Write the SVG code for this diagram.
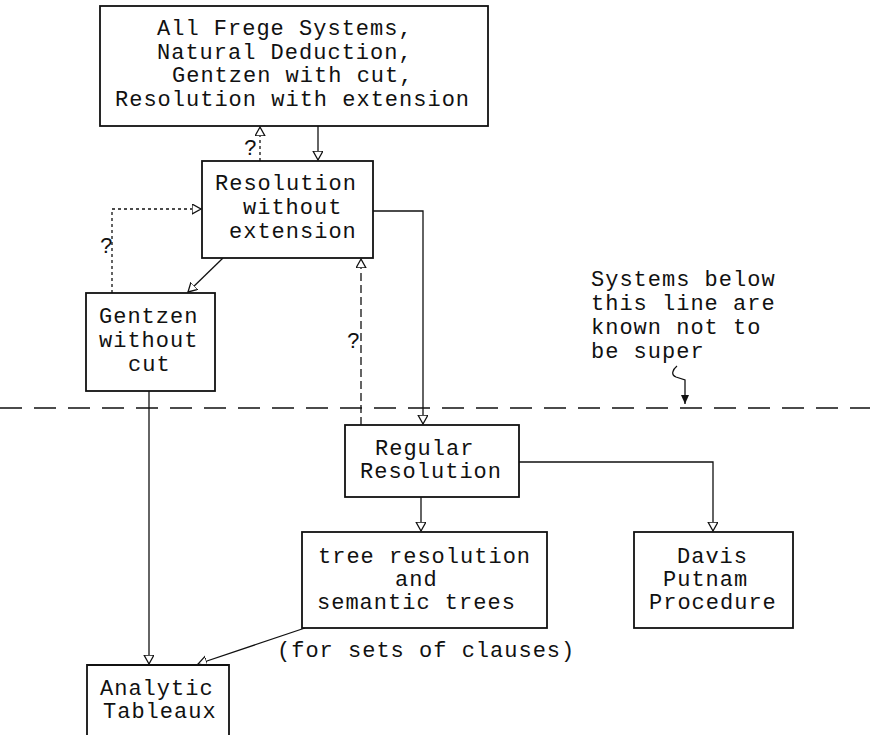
<svg xmlns="http://www.w3.org/2000/svg" width="870" height="735" viewBox="0 0 870 735">
<style>
text{font-family:"Liberation Mono","DejaVu Sans Mono",monospace;font-size:22px;letter-spacing:1px;fill:#111}
.box{fill:#fff;stroke:#111;stroke-width:1.8}
.c{fill:none;stroke:#111;stroke-width:1.3}
.dot{stroke-dasharray:3 3}
.dash{stroke-dasharray:8 4}
.sep{fill:none;stroke:#111;stroke-width:1.6;stroke-dasharray:22 12}
</style>
<defs>
<marker id="oa" markerUnits="userSpaceOnUse" markerWidth="12" markerHeight="12" refX="9" refY="5" orient="auto">
<path d="M0,0 L9,5 L0,10 z" fill="#fff" stroke="#111" stroke-width="1.3"/>
</marker>
<marker id="fa" markerUnits="userSpaceOnUse" markerWidth="12" markerHeight="12" refX="9" refY="4" orient="auto">
<path d="M0,0 L9,4 L0,8 z" fill="#111"/>
</marker>
</defs>
<rect width="870" height="735" fill="#fff"/>
<g id="connectors">
<line class="c" x1="318" y1="126" x2="318" y2="160" marker-end="url(#oa)"/>
<line class="c dot" x1="260" y1="161" x2="260" y2="127" marker-end="url(#oa)"/>
<polyline class="c" points="373,211 423,211 423,424" marker-end="url(#oa)"/>
<polyline class="c dot" points="112,293 112,209 201,209" marker-end="url(#oa)"/>
<line class="c" x1="223" y1="258" x2="188" y2="292" marker-end="url(#oa)"/>
<line class="c dash" x1="361" y1="425" x2="361" y2="259" marker-end="url(#oa)"/>
<line class="c" x1="149" y1="391" x2="149" y2="664" marker-end="url(#oa)"/>
<line class="c" x1="421" y1="497" x2="421" y2="531" marker-end="url(#oa)"/>
<polyline class="c" points="519,462 713,462 713,531" marker-end="url(#oa)"/>
<line class="c" x1="305" y1="628" x2="198" y2="664" marker-end="url(#oa)"/>
<path class="c" d="M677,366 C672,370 671,375 676,377 L685,380 L685,404" marker-end="url(#fa)"/>
<text x="244" y="155">?</text>
<text x="100" y="253">?</text>
<text x="347" y="348">?</text>
</g>
<line class="sep" x1="0" y1="408" x2="870" y2="408"/>
<g id="note">
<text x="591" y="286">Systems below</text>
<text x="591" y="310">this line are</text>
<text x="591" y="334">known not to</text>
<text x="591" y="358">be super</text>
</g>
<g id="top">
<rect class="box" x="100" y="6" width="388" height="120"/>
<text x="157" y="35">All Frege Systems,</text>
<text x="157" y="59">Natural Deduction,</text>
<text x="172" y="82">Gentzen with cut,</text>
<text x="115" y="106">Resolution with extension</text>
</g>
<g id="resolution">
<rect class="box" x="202" y="161" width="171" height="97"/>
<text x="215" y="190">Resolution</text>
<text x="243" y="214">without</text>
<text x="229" y="238">extension</text>
</g>
<g id="gentzen">
<rect class="box" x="86" y="293" width="129" height="98"/>
<text x="99" y="323">Gentzen</text>
<text x="99" y="347">without</text>
<text x="128" y="371">cut</text>
</g>
<g id="regular">
<rect class="box" x="345" y="425" width="174" height="72"/>
<text x="375" y="455">Regular</text>
<text x="360" y="478">Resolution</text>
</g>
<g id="tree">
<rect class="box" x="302" y="532" width="245" height="96"/>
<text x="318" y="563">tree resolution</text>
<text x="395" y="586">and</text>
<text x="317" y="609">semantic trees</text>
<text x="277" y="657">(for sets of clauses)</text>
</g>
<g id="davis">
<rect class="box" x="634" y="532" width="159" height="96"/>
<text x="677" y="563">Davis</text>
<text x="663" y="586">Putnam</text>
<text x="649" y="609">Procedure</text>
</g>
<g id="analytic">
<path class="box" d="M87,740 L87,665 L229,665 L229,740"/>
<text x="100" y="695">Analytic</text>
<text x="103" y="718">Tableaux</text>
</g>
</svg>
